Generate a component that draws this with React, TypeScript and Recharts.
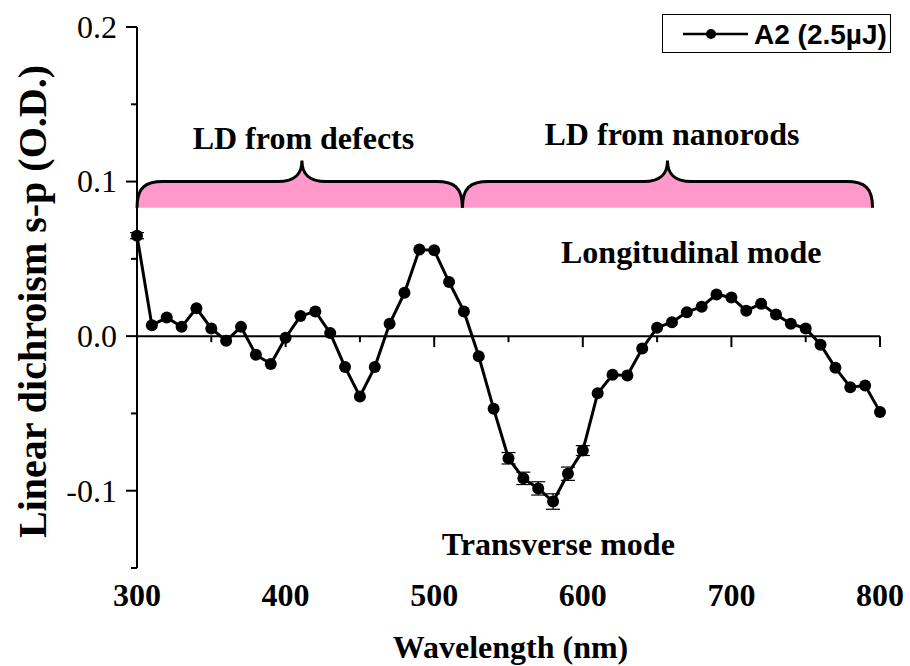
import React from 'react';
import {
  LineChart, Line, XAxis, YAxis, ReferenceLine, ReferenceArea, ReferenceDot, ErrorBar, Legend,
} from 'recharts';

const wavelengths = [
  300, 310, 320, 330, 340, 350, 360, 370, 380, 390,
  400, 410, 420, 430, 440, 450, 460, 470, 480, 490,
  500, 510, 520, 530, 540, 550, 560, 570, 580, 590,
  600, 610, 620, 630, 640, 650, 660, 670, 680, 690,
  700, 710, 720, 730, 740, 750, 760, 770, 780, 790, 800,
];
const ldValues = [
  0.065, 0.007, 0.012, 0.006, 0.018, 0.005, -0.003, 0.006, -0.012, -0.018,
  -0.001, 0.013, 0.016, 0.002, -0.020, -0.039, -0.020, 0.008, 0.028, 0.056,
  0.0555, 0.035, 0.016, -0.013, -0.047, -0.079, -0.092, -0.0985, -0.107, -0.089,
  -0.074, -0.037, -0.025, -0.0255, -0.008, 0.0055, 0.009, 0.0155, 0.019, 0.027,
  0.025, 0.0165, 0.021, 0.014, 0.008, 0.005, -0.0055, -0.0205, -0.033, -0.032, -0.049,
];
const ldErrors = [
  0.002, 0, 0, 0, 0, 0, 0, 0, 0, 0,
  0, 0, 0, 0, 0, 0, 0, 0, 0, 0,
  0, 0, 0, 0, 0, 0.0037, 0.004, 0.0043, 0.005, 0.0043,
  0.0032, 0, 0, 0, 0, 0, 0, 0, 0, 0,
  0, 0, 0, 0, 0, 0, 0, 0, 0, 0, 0,
];
const xTicks = [300, 400, 500, 600, 700, 800];
const xMinorMarks = [350, 400, 450, 500, 550, 600, 650, 700, 750, 800];
const yTicks = [-0.15, -0.1, -0.05, 0, 0.05, 0.1, 0.15, 0.2];

const seriesName = 'A2 (2.5µJ)';
const braces = [
  { label: 'LD from defects', x1: 300, x2: 519, tip: 411, labelX: 412, labelY: 0.121 },
  { label: 'LD from nanorods', x1: 519, x2: 795, tip: 657, labelX: 660, labelY: 0.1235 },
];
const modeLabels = [
  { label: 'Longitudinal mode', x: 673, y: 0.047 },
  { label: 'Transverse mode', x: 583.5, y: -0.1417 },
];

const data = wavelengths.map((wl, i) => ({ wl, ld: ldValues[i], err: ldErrors[i] }));

const SERIF = '"Liberation Serif", "Times New Roman", serif';
const SANS = '"Liberation Sans", Arial, sans-serif';

const isMajor = (v: number) => Math.abs(v * 10 - Math.round(v * 10)) < 1e-6;

const YTick = (props: any) => {
  const { x, y, payload } = props;
  const v = payload.value;
  const major = isMajor(v);
  return (
    <g>
      <line x1={x - (major ? 11 : 6)} x2={x} y1={y} y2={y} stroke="#000" strokeWidth={2} />
      {major && (
        <text x={x - 20} y={y} dy="0.34em" textAnchor="end" fontFamily={SERIF} fontSize={32} fill="#000">
          {v.toFixed(1)}
        </text>
      )}
    </g>
  );
};

const XTick = (props: any) => {
  const { x, y, payload } = props;
  return (
    <text x={x} y={y + 38} textAnchor="middle" fontFamily={SERIF} fontWeight="bold" fontSize={32} fill="#000">
      {payload.value}
    </text>
  );
};

const makeBrace = (b: { x1: number; x2: number; tip: number }) => (props: any) => {
  const { x, y, width, height } = props;
  const x0 = x;
  const x1 = x + width;
  const yt = y;
  const yb = y + height;
  const tip = x0 + (width * (b.tip - b.x1)) / (b.x2 - b.x1);
  const th = 21;
  const curve =
    `M ${x0} ${yb} C ${x0} ${yt + 6} ${x0 + 8} ${yt} ${x0 + 26} ${yt} ` +
    `L ${tip - 24} ${yt} C ${tip - 6} ${yt} ${tip} ${yt - 8} ${tip} ${yt - th} ` +
    `C ${tip} ${yt - 8} ${tip + 6} ${yt} ${tip + 24} ${yt} ` +
    `L ${x1 - 26} ${yt} C ${x1 - 8} ${yt} ${x1} ${yt + 6} ${x1} ${yb}`;
  return (
    <g>
      <path d={`${curve} Z`} fill="#ff99cc" stroke="none" />
      <path d={curve} fill="none" stroke="#000" strokeWidth={3} />
    </g>
  );
};

const textShape = (label: string) => (props: any) => {
  const { cx, cy } = props;
  return (
    <text x={cx} y={cy} textAnchor="middle" fontFamily={SERIF} fontWeight="bold" fontSize={32} fill="#000">
      {label}
    </text>
  );
};

const LegendBox = () => (
  <div
    style={{
      width: 227, height: 37, border: '1.5px solid #000', background: '#fff',
      boxSizing: 'content-box', position: 'relative',
    }}
  >
    <svg width={227} height={37} style={{ position: 'absolute', left: 0, top: 0 }}>
      <line x1={20} x2={85} y1={19} y2={19} stroke="#000" strokeWidth={2.5} />
      <circle cx={48} cy={19} r={5} fill="#000" />
      <text x={91} y={29} fontFamily={SANS} fontWeight="bold" fontSize={28} fill="#000">
        {seriesName}
      </text>
    </svg>
  </div>
);

export default function App() {
  return (
    <div style={{ position: 'absolute', left: 0, top: 0, background: '#fff' }}>
      <LineChart
        width={910}
        height={666}
        data={data}
        margin={{ top: 27, right: 30, left: 0, bottom: 0 }}
      >
        <XAxis
          dataKey="wl"
          type="number"
          domain={[300, 800]}
          ticks={xTicks}
          interval={0}
          axisLine={false}
          tickLine={false}
          tickSize={0}
          tickMargin={0}
          height={98}
          tick={<XTick />}
          label={{
            content: (p: any) => {
              const vb = p.viewBox;
              return (
                <text
                  x={vb.x + vb.width / 2 + 2}
                  y={vb.y + 90}
                  textAnchor="middle"
                  fontFamily={SERIF}
                  fontWeight="bold"
                  fontSize={32}
                  fill="#000"
                >
                  Wavelength (nm)
                </text>
              );
            },
          }}
        />
        <YAxis
          type="number"
          domain={[-0.15, 0.2]}
          ticks={yTicks}
          interval={0}
          width={137}
          axisLine={{ stroke: '#000', strokeWidth: 2 }}
          tickLine={false}
          tickSize={0}
          tickMargin={0}
          tick={<YTick />}
          label={{
            content: (p: any) => {
              const vb = p.viewBox;
              const cx = 32;
              const cy = vb.y + vb.height / 2 + 4;
              return (
                <text
                  x={cx}
                  y={cy}
                  transform={`rotate(-90, ${cx}, ${cy})`}
                  textAnchor="middle"
                  dominantBaseline="central"
                  fontFamily={SERIF}
                  style={{ fontFamily: SERIF }}
                  fontWeight="bold"
                  fontSize={40}
                  fill="#000"
                >
                  Linear dichroism s-p (O.D.)
                </text>
              );
            },
          }}
        />
        {braces.map((b) => (
          <ReferenceArea
            key={b.label}
            x1={b.x1}
            x2={b.x2}
            y1={0.083}
            y2={0.1}
            shape={makeBrace(b)}
            ifOverflow="visible"
          />
        ))}
        {braces.map((b) => (
          <ReferenceDot
            key={`t-${b.label}`}
            x={b.labelX}
            y={b.labelY}
            r={0}
            shape={textShape(b.label)}
            ifOverflow="visible"
          />
        ))}
        {modeLabels.map((m) => (
          <ReferenceDot
            key={m.label}
            x={m.x}
            y={m.y}
            r={0}
            shape={textShape(m.label)}
            ifOverflow="visible"
          />
        ))}
        <ReferenceLine y={0} stroke="#000" strokeWidth={2} />
        {xMinorMarks.map((v) => (
          <ReferenceLine
            key={`m-${v}`}
            segment={[{ x: v, y: 0 }, { x: v, y: v % 100 === 0 ? -0.0071 : -0.0039 }]}
            stroke="#000"
            strokeWidth={2}
            ifOverflow="visible"
          />
        ))}
        <Legend
          layout="horizontal"
          verticalAlign="middle"
          align="center"
          content={<LegendBox />}
          wrapperStyle={{ position: 'absolute', left: 662, top: 14, width: 230, height: 40 }}
        />
        <Line
          dataKey="ld"
          name={seriesName}
          stroke="#000"
          strokeWidth={3}
          dot={{ r: 6, fill: '#000', stroke: '#000', strokeWidth: 0 }}
          activeDot={false}
          isAnimationActive={false}
        >
          <ErrorBar dataKey="err" width={7} stroke="#000" strokeWidth={1.2} direction="y" />
        </Line>
      </LineChart>
    </div>
  );
}
